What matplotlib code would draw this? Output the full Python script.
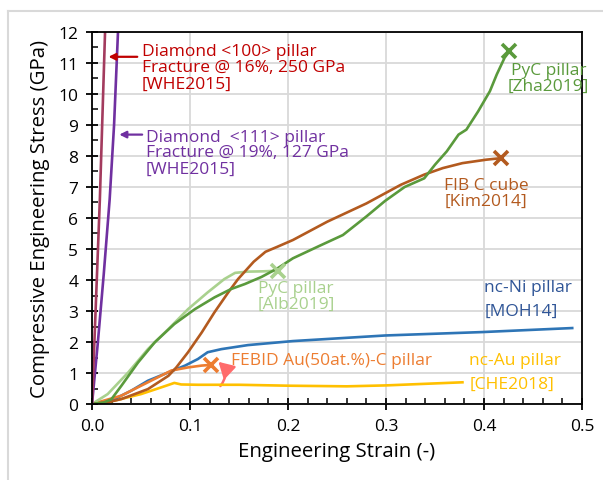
import matplotlib.pyplot as plt
from matplotlib.patches import FancyArrowPatch
from matplotlib.ticker import MultipleLocator

plt.rcParams['font.family'] = ['Open Sans', 'DejaVu Sans']

# Stress-strain curves (strain, stress in GPa)
dia100_strain = [0.0, 0.004, 0.008, 0.0133]
dia100_stress = [0.0, 3.3, 6.6, 12.0]

dia111_strain = [0.0, 0.006, 0.012, 0.018, 0.0225, 0.0265]
dia111_stress = [0.0, 2.0, 4.2, 6.6, 9.0, 12.0]

zha_strain = [0.0, 0.012, 0.0197, 0.030, 0.047, 0.064, 0.084, 0.105, 0.125, 0.142, 0.156,
              0.173, 0.189, 0.205, 0.232, 0.256, 0.280, 0.299, 0.319, 0.339, 0.350,
              0.362, 0.374, 0.382, 0.394, 0.406, 0.413, 0.421, 0.426]
zha_stress = [0.0, 0.05, 0.15, 0.59, 1.34, 1.99, 2.58, 3.06, 3.44, 3.71, 3.87,
              4.10, 4.37, 4.70, 5.10, 5.45, 6.05, 6.55, 7.00, 7.28, 7.72,
              8.15, 8.69, 8.85, 9.44, 10.09, 10.63, 11.17, 11.38]

kim_strain = [0.0, 0.015, 0.030, 0.057, 0.078, 0.086, 0.098, 0.112, 0.125, 0.139, 0.149,
              0.165, 0.177, 0.189, 0.205, 0.240, 0.280, 0.315, 0.339, 0.358, 0.378,
              0.402, 0.417]
kim_stress = [0.0, 0.05, 0.16, 0.48, 0.91, 1.18, 1.67, 2.31, 2.96, 3.60, 4.03,
              4.59, 4.91, 5.07, 5.29, 5.88, 6.47, 7.07, 7.40, 7.61, 7.77,
              7.88, 7.93]

alb_strain = [0.0, 0.016, 0.037, 0.057, 0.078, 0.098, 0.118, 0.135, 0.146, 0.159, 0.175, 0.190]
alb_stress = [0.0, 0.32, 1.02, 1.77, 2.42, 3.06, 3.60, 4.03, 4.23, 4.27, 4.28, 4.30]

ni_strain = [0.0, 0.023, 0.040, 0.057, 0.078, 0.095, 0.108, 0.118, 0.132, 0.159,
             0.205, 0.299, 0.398, 0.490]
ni_stress = [0.0, 0.16, 0.43, 0.75, 1.02, 1.24, 1.45, 1.67, 1.77, 1.90,
             2.03, 2.21, 2.32, 2.45]

febid_strain = [0.0, 0.030, 0.057, 0.081, 0.098, 0.112, 0.121]
febid_stress = [0.0, 0.27, 0.70, 1.08, 1.18, 1.24, 1.26]

au_strain = [0.0, 0.023, 0.050, 0.071, 0.084, 0.091, 0.108, 0.150, 0.201, 0.260, 0.300, 0.339, 0.378]
au_stress = [0.0, 0.11, 0.32, 0.54, 0.68, 0.63, 0.62, 0.62, 0.59, 0.57, 0.60, 0.65, 0.70]

fig = plt.figure(figsize=(6.03, 4.81), dpi=100)
ax = fig.add_axes([0.1526, 0.158, 0.8126, 0.7734])

# light frame around the whole figure
fig.add_artist(plt.Line2D([0.014, 0.014], [0.0, 0.975], color='#D9D9D9', lw=1.5,
                          transform=fig.transFigure))
fig.add_artist(plt.Line2D([0.014, 1.0], [0.975, 0.975], color='#D9D9D9', lw=1.5,
                          transform=fig.transFigure))

lw = 1.9
ax.plot(au_strain, au_stress, color='#FFC000', lw=lw)
ax.plot(ni_strain, ni_stress, color='#2E75B6', lw=lw)
ax.plot(febid_strain, febid_stress, color='#ED7D31', lw=lw)
ax.plot(alb_strain, alb_stress, color='#A9D18E', lw=lw)
ax.plot(kim_strain, kim_stress, color='#B35A1F', lw=lw)
ax.plot(zha_strain, zha_stress, color='#5A9A3C', lw=lw)
ax.plot(dia111_strain, dia111_stress, color='#7030A0', lw=lw)
ax.plot(dia100_strain, dia100_stress, color='#A33B5E', lw=lw)

# fracture points
mk = dict(marker='x', markersize=10, mew=2.6, linestyle='none')
ax.plot(zha_strain[-1], zha_stress[-1], color='#5A9A3C', **mk)
ax.plot(kim_strain[-1], kim_stress[-1], color='#B35A1F', **mk)
ax.plot(alb_strain[-1], alb_stress[-1], color='#A9D18E', **mk)
ax.plot(febid_strain[-1], febid_stress[-1], color='#ED7D31', **mk)

fs = 12.5


def label(x, ys, lines, color, ha='left'):
    for y, s in zip(ys, lines):
        ax.text(x, y, s, color=color, fontsize=fs, ha=ha, va='center')


ax.annotate('', xy=(0.014, 11.2), xytext=(0.049, 11.2),
            arrowprops=dict(arrowstyle='-|>', color='#C00000', lw=1.6, mutation_scale=10))
label(0.0507, [11.38, 10.86, 10.32],
      ['Diamond <100> pillar', 'Fracture @ 16%, 250 GPa', '[WHE2015]'], '#C00000')

ax.annotate('', xy=(0.025, 8.69), xytext=(0.054, 8.69),
            arrowprops=dict(arrowstyle='-|>', color='#7030A0', lw=1.6, mutation_scale=10))
label(0.0551, [8.60, 8.12, 7.58],
      ['Diamond  <111> pillar', 'Fracture @ 19%, 127 GPa', '[WHE2015]'], '#7030A0')

label(0.466, [10.76, 10.25], ['PyC pillar', '[Zha2019]'], '#5A9A3C', ha='center')
label(0.402, [7.07, 6.55], ['FIB C cube', '[Kim2014]'], '#B35A1F', ha='center')
label(0.208, [3.74, 3.24], ['PyC pillar', '[Alb2019]'], '#A9D18E', ha='center')
label(0.4004, [3.78, 3.02], ['nc-Ni pillar', '[MOH14]'], '#2F5597')
label(0.1417, [1.42], ['FEBID Au(50at.%)-C pillar'], '#ED7D31')
label(0.385, [1.42, 0.65], ['nc-Au pillar', '[CHE2018]'], '#FFC000')

# small curved arrow pointing at the FEBID fracture point
ax.add_patch(FancyArrowPatch((0.131, 0.58), (0.129, 1.36), connectionstyle='arc3,rad=0.45',
                             arrowstyle='-|>,head_length=0.7,head_width=0.4',
                             mutation_scale=13, color='#FF6B6B', lw=1.8,
                             shrinkA=0, shrinkB=0))

ax.set_xlim(0, 0.5)
ax.set_ylim(0, 12)
ax.xaxis.set_major_locator(MultipleLocator(0.1))
ax.xaxis.set_minor_locator(MultipleLocator(0.02))
ax.yaxis.set_major_locator(MultipleLocator(1))
ax.yaxis.set_minor_locator(MultipleLocator(0.5))
ax.xaxis.set_major_formatter(lambda v, p: f'{v:.1f}')
ax.grid(True, which='major', color='#D9D9D9', lw=1.3)
ax.set_axisbelow(True)
for s in ax.spines.values():
    s.set_color('black')
    s.set_linewidth(1.3)
ax.tick_params(which='major', direction='inout', length=8, width=1.3, labelsize=12.5,
               colors='black', pad=6)
ax.tick_params(which='minor', direction='in', length=4, width=1.1)
ax.set_xlabel('Engineering Strain (-)', fontsize=14.7, labelpad=5)
ax.set_ylabel('Compressive Engineering Stress (GPa)', fontsize=14.7, labelpad=6)

fig.savefig('out.png', dpi=100)
